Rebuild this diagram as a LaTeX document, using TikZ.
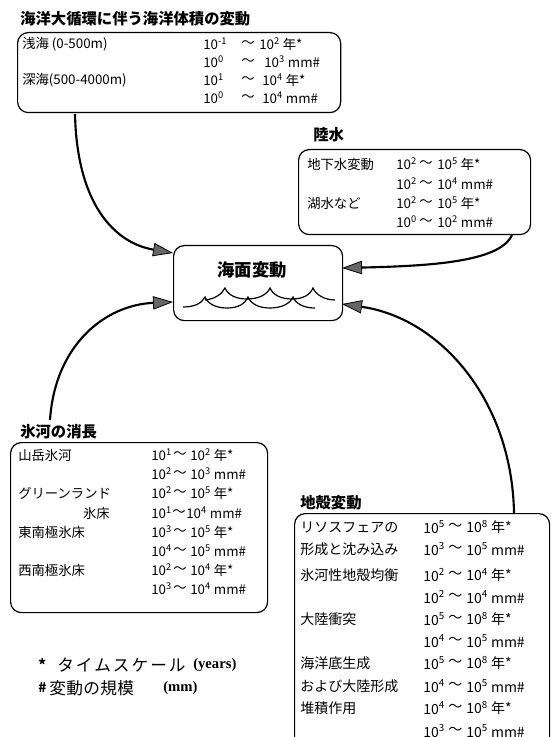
\documentclass[tikz,border=0pt]{standalone}
\usepackage{fontspec}
\setmainfont{Noto Sans CJK JP}
\newfontfamily\serifb{Liberation Serif}
\usetikzlibrary{arrows.meta}
\newcommand\ten[1]{10\textsuperscript{#1}}
\newcommand\rng[8]{%
  \node[txt] (#1a) at (#3,#2) {\ten{#4}};
  \node[txt] (#1t) at (#5,#2) {～};
  \node[txt] (#1b) at (#6,#2) {\ten{#7}\ #8};}
\begin{document}
\begin{tikzpicture}[x=0.75pt,y=-0.75pt,font=\fontsize{10}{12}\selectfont,
  box/.style={draw,line width=0.9pt,rounded corners=8pt,inner sep=0pt,anchor=north west},
  txt/.style={anchor=west,inner sep=0pt},
  ttl/.style={anchor=west,inner sep=0pt,font=\fontsize{11.5}{14}\selectfont\bfseries},
  conn/.style={line width=1.6pt,-{Triangle[length=15pt,width=10pt,fill=black!60,line width=0.6pt]}},
  wave/.style={line width=0.9pt}]
\useasboundingbox (0,0) rectangle (553,737);
% boxes
\node[box,minimum width=242.3pt,minimum height=60pt] (ocean) at (17,32) {};
\node[box,minimum width=174pt,minimum height=63.75pt] (land) at (298,149) {};
\node[box,minimum width=126.75pt,minimum height=56.25pt] (sea) at (173,245) {};
\node[box,minimum width=192.75pt,minimum height=127.5pt] (glacier) at (10,442) {};
\node[box,minimum width=191.25pt,minimum height=185pt] (crust) at (294,513) {};
% titles
\node[ttl] (tOcean) at (20,19) {海洋大循環に伴う海洋体積の変動};
\node[ttl] (tLand) at (313,135) {陸水};
\node[ttl] (tGlacier) at (20,432) {氷河の消長};
\node[ttl] (tCrust) at (300,503) {地殻変動};
\node[anchor=center,inner sep=0pt,font=\fontsize{13}{15}\selectfont\bfseries] (tSea) at (252,270) {海面変動};
% waves
\draw[wave] (183,307) .. controls (195,307) and (202,303) .. (205,297)
  .. controls (208,304) and (216,308) .. (227,308) .. controls (238,308) and (245,304) .. (248,297)
  .. controls (251,304) and (259,308) .. (270,308) .. controls (281,308) and (290,304) .. (293,297)
  .. controls (296,304) and (304,308) .. (315,308);
\draw[wave] (205,300) .. controls (215,299) and (222,294) .. (225,288)
  .. controls (228,295) and (236,299) .. (247,299) .. controls (258,299) and (267,295) .. (270,288)
  .. controls (273,295) and (281,299) .. (292,299) .. controls (303,299) and (310,295) .. (313,288)
  .. controls (316,295) and (325,300) .. (335,300);
% ocean rows
\node[txt] (oL1) at (22,44) {浅海 (0-500m)};
\node[txt] (oL3) at (22,80) {深海(500-4000m)};
\rng{o1}{44}{203}{-1}{241}{259}{2}{年*}
\rng{o2}{62}{203}{0}{241}{264}{3}{mm\#}
\rng{o3}{80}{203}{1}{241}{262}{4}{年*}
\rng{o4}{98}{203}{0}{241}{262}{4}{mm\#}
% land rows
\node[txt] (lL1) at (307,164) {地下水変動};
\node[txt] (lL3) at (307,203) {湖水など};
\rng{l1}{164}{396}{2}{419}{437}{5}{年*}
\rng{l2}{184}{396}{2}{419}{437}{4}{mm\#}
\rng{l3}{203}{396}{2}{419}{437}{5}{年*}
\rng{l4}{222}{396}{0}{419}{437}{2}{mm\#}
% glacier rows
\node[txt] (gL1) at (18,455) {山岳氷河};
\node[txt] (gL3) at (18,493) {グリーンランド};
\node[anchor=east,inner sep=0pt] (gL4) at (110,513) {氷床};
\node[txt] (gL5) at (18,532) {東南極氷床};
\node[txt] (gL7) at (18,570) {西南極氷床};
\rng{g1}{455}{151}{1}{173}{190}{2}{年*}
\rng{g2}{474}{151}{2}{173}{190}{3}{mm\#}
\rng{g3}{493}{151}{2}{173}{190}{5}{年*}
\rng{g4}{513}{151}{1}{172}{186}{4}{mm\#}
\rng{g5}{532}{151}{3}{173}{190}{5}{年*}
\rng{g6}{551}{151}{4}{173}{190}{5}{mm\#}
\rng{g7}{570}{151}{2}{173}{190}{4}{年*}
\rng{g8}{589}{151}{3}{173}{190}{4}{mm\#}
% crust rows
\begin{scope}[font=\fontsize{10.5}{12}\selectfont]
\node[txt] (cL1) at (300,527) {リソスフェアの};
\node[txt] (cL2) at (300,549) {形成と沈み込み};
\node[txt] (cL3) at (300,575) {氷河性地殻均衡};
\node[txt] (cL5) at (300,619) {大陸衝突};
\node[txt] (cL7) at (300,663) {海洋底生成};
\node[txt] (cL8) at (300,686) {および大陸形成};
\node[txt] (cL9) at (300,708) {堆積作用};
\rng{c1}{527}{423}{5}{448}{466}{8}{年*}
\rng{c2}{549}{423}{3}{448}{466}{5}{mm\#}
\rng{c3}{575}{423}{2}{448}{466}{4}{年*}
\rng{c4}{597}{423}{2}{448}{466}{4}{mm\#}
\rng{c5}{619}{423}{5}{448}{466}{8}{年*}
\rng{c6}{641}{423}{4}{448}{466}{5}{mm\#}
\rng{c7}{663}{423}{5}{448}{466}{8}{年*}
\rng{c8}{686}{423}{4}{448}{466}{5}{mm\#}
\rng{c9}{708}{423}{4}{448}{466}{8}{年*}
\rng{c10}{731}{423}{3}{448}{466}{5}{mm\#}
\end{scope}
% legend
\node[txt,font=\fontsize{11}{13}\selectfont\bfseries] (k1) at (38,665) {*};
\node[txt,font=\fontsize{12.5}{14}\selectfont\addfontfeature{LetterSpace=12}] (k2) at (57,665) {タイムスケール};
\node[txt,font=\fontsize{11}{13}\selectfont\serifb\bfseries] (k3) at (193,665) {(years)};
\node[txt,font=\fontsize{10}{13}\selectfont\bfseries] (k4) at (38,688) {\#};
\node[txt,font=\fontsize{12.5}{14}\selectfont\addfontfeature{LetterSpace=2}] (k5) at (49,688) {変動の規模};
\node[txt,font=\fontsize{11}{13}\selectfont\serifb\bfseries] (k6) at (163,688) {(mm)};
% connectors
\coordinate (oS) at (75,114);
\coordinate (lS) at (512,235);
\coordinate (gS) at (50,420);
\coordinate (cS) at (514,513);
\coordinate (sIn1) at (173,253);
\coordinate (sIn2) at (342,268);
\coordinate (sIn3) at (173,302);
\coordinate (sIn4) at (342,304);
\draw[conn] (oS) .. controls (77,205) and (115,243) .. (sIn1);
\draw[conn] (lS) .. controls (500,262) and (430,266) .. (sIn2);
\draw[conn] (gS) .. controls (55,345) and (105,305) .. (sIn3);
\draw[conn] (cS) .. controls (512,400) and (440,318) .. (sIn4);
\end{tikzpicture}
\end{document}
